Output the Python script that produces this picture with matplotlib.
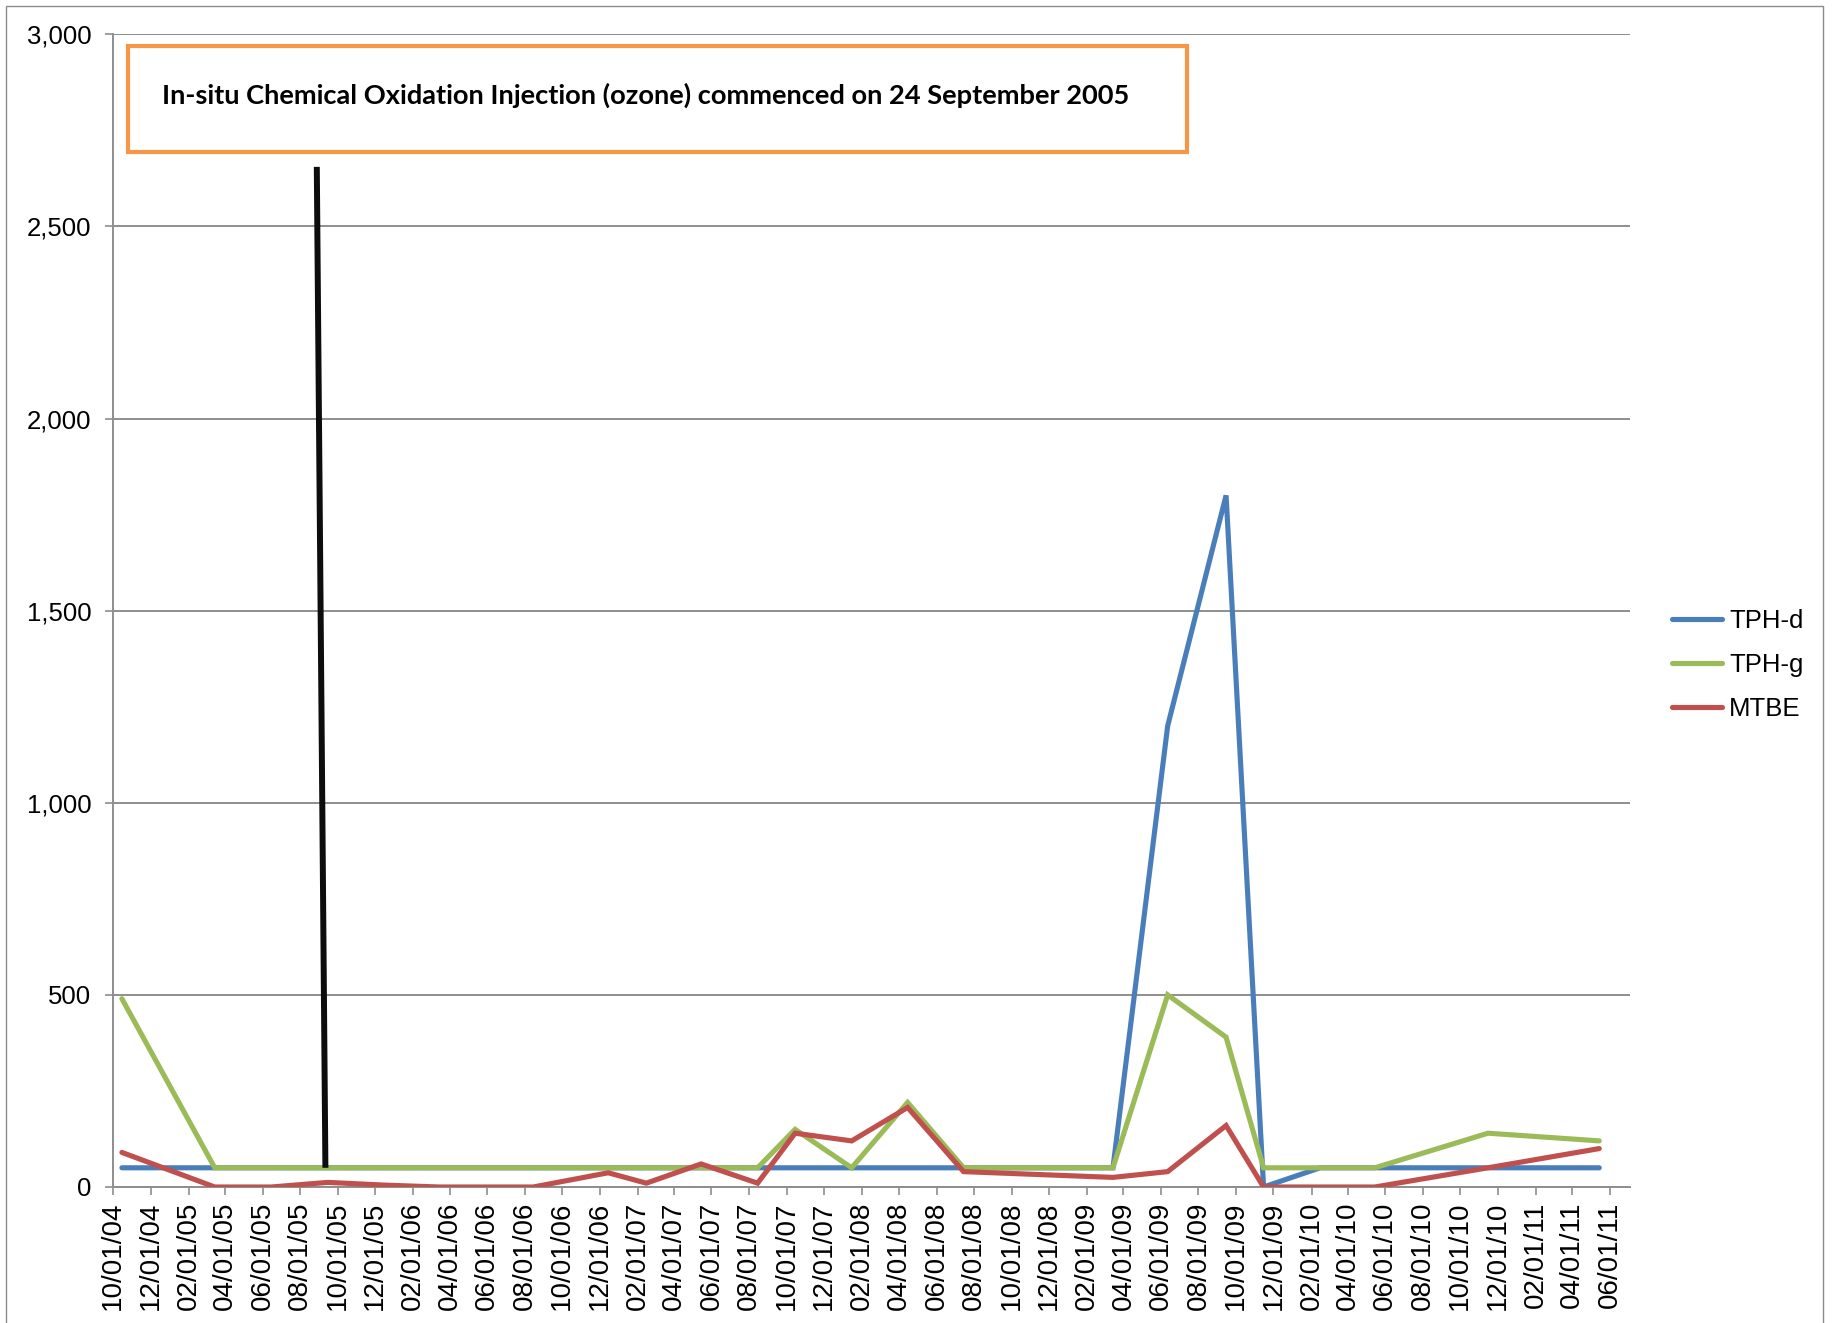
import matplotlib
matplotlib.use("Agg")
import matplotlib.pyplot as plt
import matplotlib.dates as mdates
from matplotlib.ticker import FuncFormatter, MultipleLocator
from matplotlib.patches import Rectangle
import pandas as pd

# ---------------- data ----------------
sample_dates = [
    "2004-10-15", "2005-03-15", "2005-06-15", "2005-09-15", "2005-12-15",
    "2006-03-15", "2006-06-15", "2006-08-15", "2006-12-15", "2007-02-15",
    "2007-05-15", "2007-08-15", "2007-10-15", "2008-01-15", "2008-04-15",
    "2008-07-15", "2009-03-15", "2009-06-12", "2009-09-15", "2009-11-15",
    "2010-02-15", "2010-05-15", "2010-11-15", "2011-05-15",
]
tph_d = [50, 50, 50, 50, 50, 50, 50, 50, 50, 50, 50, 50, 50, 50, 50, 50,
         50, 1200, 1800, 0, 50, 50, 50, 50]
tph_g = [490, 50, 50, 50, 50, 50, 50, 50, 50, 50, 50, 50, 150, 50, 220, 50,
         50, 500, 390, 50, 50, 50, 140, 120]
mtbe = [90, 0, 0, 12, 5, 0, 0, 0, 37, 10, 60, 10, 140, 120, 207, 40,
        25, 40, 160, 0, 0, 0, 50, 100]
series_names = ["TPH-d", "TPH-g", "MTBE"]
series_colors = ["#4A7EBB", "#9BBB59", "#C0504D"]

injection_line_dates = ["2005-08-28", "2005-09-11"]
injection_line_values = [2655, 50]
annotation_text = "In-situ Chemical Oxidation Injection (ozone) commenced on 24 September 2005"

x_start, x_end = "2004-10-01", "2011-07-04"
y_max, y_step = 3000, 500

# ---------------- figure ----------------
W, H, DPI = 1834, 1323, 100
fig = plt.figure(figsize=(W / DPI, H / DPI), dpi=DPI)
fig.patch.set_facecolor("white")

ax = fig.add_axes([113.3 / W, 1 - 1187 / H, (1630 - 113.3) / W, (1187 - 34.3) / H])

dates = pd.to_datetime(sample_dates)
for vals, name, col in zip([tph_d, tph_g, mtbe], series_names, series_colors):
    ax.plot(dates, vals, color=col, lw=3.7, label=name,
            solid_joinstyle="miter", solid_capstyle="round", zorder=3)

ax.plot(pd.to_datetime(injection_line_dates), injection_line_values,
        color="#0D0D0D", lw=4.3, solid_capstyle="butt", zorder=4)

ax.set_xlim(pd.Timestamp(x_start), pd.Timestamp(x_end))
ax.set_ylim(0, y_max)
ax.yaxis.set_major_locator(MultipleLocator(y_step))
ax.yaxis.set_major_formatter(FuncFormatter(lambda v, p: f"{int(v):,}"))
ax.xaxis.set_major_locator(mdates.MonthLocator(bymonth=[2, 4, 6, 8, 10, 12], bymonthday=1))
ax.xaxis.set_major_formatter(mdates.DateFormatter("%m/%d/%y"))

grid_col = "#8E8E8E"
ax.grid(axis="y", color=grid_col, lw=1.4, zorder=0)
ax.set_axisbelow(True)
for s in ["top", "right"]:
    ax.spines[s].set_visible(False)
for s in ["left", "bottom"]:
    ax.spines[s].set_color(grid_col)
    ax.spines[s].set_linewidth(1.4)

ax.tick_params(axis="y", length=5.8, width=1.2, color=grid_col, pad=10,
               labelsize=18.5, labelcolor="black")
ax.tick_params(axis="x", length=5.8, width=1.2, color=grid_col, pad=5,
               labelsize=20, labelcolor="black", labelrotation=90)
for lab in ax.get_xticklabels() + ax.get_yticklabels():
    lab.set_fontfamily(["Liberation Sans", "DejaVu Sans"])

# annotation box
fig.add_artist(Rectangle((128 / W, 1 - 152 / H), (1187 - 128) / W, (152 - 46) / H,
                         transform=fig.transFigure, fill=False,
                         edgecolor="#F79646", lw=3.0))
fig.text(162 / W, 1 - 95 / H, annotation_text, fontsize=19.6, fontweight="bold",
         family=["Lato", "DejaVu Sans"], va="center", ha="left")

# legend
leg = fig.legend(loc="center left", bbox_to_anchor=(1672 / W, 1 - 665 / H),
                 frameon=False, handlelength=1.95, handletextpad=0.28,
                 labelspacing=0.78, borderpad=0, borderaxespad=0,
                 prop={"family": ["Liberation Sans", "DejaVu Sans"], "size": 18.5})
for h in leg.get_lines():
    h.set_linewidth(3.7)

# outer chart border
fig.add_artist(Rectangle((6 / W, -0.05), (1823 - 6) / W, 1.05 - 6 / H,
                         transform=fig.transFigure, fill=False,
                         edgecolor="#8C8C8C", lw=1.0))

fig.savefig("out.png", dpi=DPI)
